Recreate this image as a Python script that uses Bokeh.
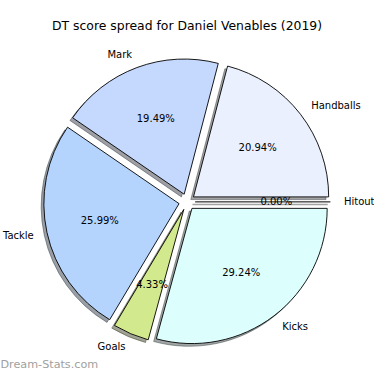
import math
from bokeh.plotting import figure
from bokeh.models import Range1d
from bokeh.core.properties import value
from bokeh.embed import file_html
from bokeh.resources import INLINE

# ---- data ----
labels = ["Handballs", "Mark", "Tackle", "Goals", "Kicks", "Hitout"]
shares = [20.94, 19.49, 25.99, 4.33, 29.24, 0.00]
colors = ["#EAF0FE", "#C5D8FE", "#B4D4FE", "#D2EA8D", "#DCFFFE", "#F0F0F0"]
title_text = "DT score spread for Daniel Venables (2019)"
watermark = "Dream-Stats.com"

# ---- layout (units = reference pixels, y measured upward) ----
W = 390
CX, CY = 194.5, W - 210
R = 141
EXPLODE = 8.5
SHADOW = 2.8
PCT_DIST = 0.6
LBL_DIST = 1.1
FONT = value("DejaVu Sans")

p = figure(width=374, height=374, output_backend="svg", toolbar_location=None,
           x_range=Range1d(0, W), y_range=Range1d(0, W), min_border=0)
p.axis.visible = False
p.grid.visible = False
p.outline_line_color = None
p.background_fill_color = "white"
p.border_fill_color = "white"

total = sum(shares)
start = 0.0
for lab, v, col in zip(labels, shares, colors):
    sweep = 2 * math.pi * v / total
    t1, t2 = start, start + sweep
    mid = (t1 + t2) / 2
    ex = CX + EXPLODE * math.cos(mid)
    ey = CY + EXPLODE * math.sin(mid)
    rgb = tuple(int(col[i:i + 2], 16) for i in (1, 3, 5))
    shade = "#%02x%02x%02x" % tuple(int(c * 0.3) for c in rgb)
    if sweep > 0:
        p.wedge(x=[ex - SHADOW], y=[ey - SHADOW], radius=R, start_angle=t1, end_angle=t2,
                direction="anticlock",
                fill_color=shade, fill_alpha=0.5, line_color=shade, line_alpha=0.5, line_width=1)
        p.wedge(x=[ex], y=[ey], radius=R, start_angle=t1, end_angle=t2,
                direction="anticlock",
                fill_color=col, line_color="black", line_width=0.9)
    else:
        a = t1
        p.segment(x0=[ex - SHADOW], y0=[ey - SHADOW],
                  x1=[ex - SHADOW + R * math.cos(a)], y1=[ey - SHADOW + R * math.sin(a)],
                  line_color=shade, line_alpha=0.5, line_width=1.5)
        p.segment(x0=[ex], y0=[ey], x1=[ex + R * math.cos(a)], y1=[ey + R * math.sin(a)],
                  line_color="black", line_width=1)
    # percentage label
    p.text(x=[ex + PCT_DIST * R * math.cos(mid)], y=[ey + PCT_DIST * R * math.sin(mid)],
           text=[f"{v:.2f}%"], text_align="center", text_baseline="middle",
           text_font=FONT, text_font_size="10px", text_color="black")
    # category label
    lx = ex + LBL_DIST * R * math.cos(mid)
    ly = ey + LBL_DIST * R * math.sin(mid)
    p.text(x=[lx], y=[ly], text=[lab],
           text_align="left" if math.cos(mid) > 0 else "right", text_baseline="middle",
           text_font=FONT, text_font_size="10px", text_color="black")
    start = t2

# title
p.text(x=[CX], y=[W - 26], text=[title_text], text_align="center", text_baseline="middle",
       text_font=FONT, text_font_size="12.4px", text_color="black")
# watermark
p.text(x=[0], y=[W - 380], text=[watermark], text_align="left", text_baseline="middle",
       text_font=FONT, text_font_size="11.2px", text_color="#A0A0A0")

open("out.html", "w").write(file_html(p, INLINE))
